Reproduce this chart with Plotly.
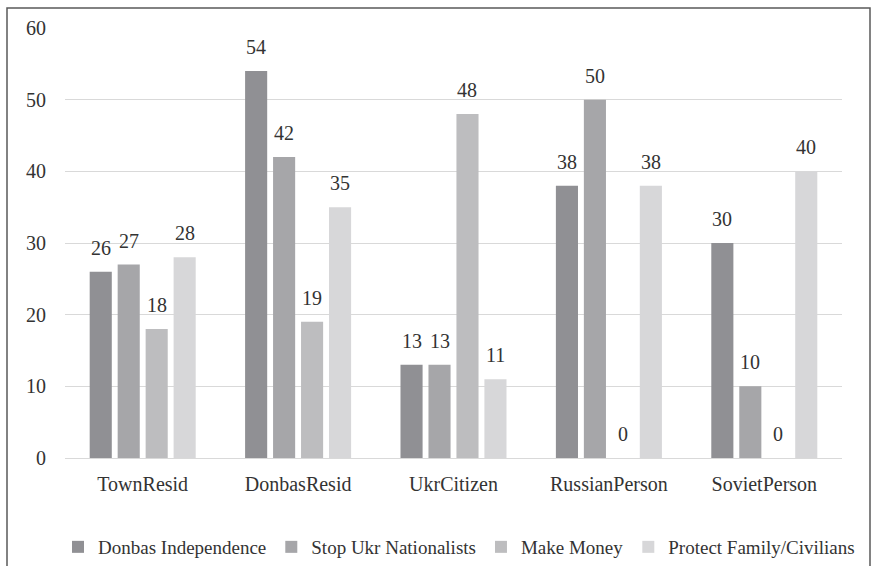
import plotly.graph_objects as go

categories = ["TownResid", "DonbasResid", "UkrCitizen", "RussianPerson", "SovietPerson"]
series_names = ["Donbas Independence", "Stop Ukr Nationalists", "Make Money", "Protect Family/Civilians"]
donbas_independence = [26, 54, 13, 38, 30]
stop_ukr_nationalists = [27, 42, 13, 50, 10]
make_money = [18, 19, 48, 0, 0]
protect_family = [28, 35, 11, 38, 40]
y_ticks = [0, 10, 20, 30, 40, 50, 60]

series_values = [donbas_independence, stop_ukr_nationalists, make_money, protect_family]
colors = ["#909094", "#a6a6a9", "#bdbdbf", "#d7d7d9"]

W, H = 871, 566
ML, MR, MT, MB = 65, 29, 28, 108
plot_w = W - ML - MR
plot_h = H - MT - MB
BARGAP = 0.28
BARGROUPGAP = 0.21
FONT = "serif"
TXT = "#333333"

fig = go.Figure()
for name, vals, col in zip(series_names, series_values, colors):
    fig.add_trace(go.Bar(
        x=categories, y=vals, name=name,
        marker=dict(color=col, line=dict(width=0)),
    ))

# value labels above bars, shifted to each bar's slot within the group
cat_px = plot_w / len(categories)
slot_px = cat_px * (1 - BARGAP) / len(series_values)
n = len(series_values)
for j, vals in enumerate(series_values):
    for c, v in zip(categories, vals):
        fig.add_annotation(
            x=c, y=v, text=str(v), showarrow=False,
            xref="x", yref="y", yanchor="bottom",
            xshift=(j - (n - 1) / 2) * slot_px, yshift=11,
            font=dict(family=FONT, size=20, color=TXT),
        )

# outer frame
fig.add_shape(
    type="rect", xref="paper", yref="paper",
    x0=(7 - ML) / plot_w, x1=(870 - ML) / plot_w,
    y0=-(MB + 10) / plot_h, y1=1 + (MT - 8) / plot_h,
    line=dict(color="#5a5a5a", width=1.5), layer="below",
)

fig.update_layout(
    width=W, height=H,
    margin=dict(l=ML, r=MR, t=MT, b=MB, autoexpand=False),
    paper_bgcolor="white", plot_bgcolor="white",
    barmode="group", bargap=BARGAP, bargroupgap=BARGROUPGAP,
    font=dict(family=FONT, size=20, color=TXT),
    showlegend=True,
    legend=dict(
        orientation="h", x=(58 - ML) / plot_w, xanchor="left",
        y=(H - MB - 547) / plot_h, yanchor="middle",
        font=dict(family=FONT, size=19, color=TXT),
        itemwidth=30, traceorder="normal", bgcolor="rgba(0,0,0,0)",
    ),
    xaxis=dict(
        showgrid=False, showline=False, zeroline=False,
        tickfont=dict(family=FONT, size=20, color=TXT),
        ticks="", ticklabelstandoff=12,
    ),
    yaxis=dict(
        range=[0, 60], tickvals=y_ticks, showgrid=True,
        gridcolor="#d9d9d9", gridwidth=1, zeroline=True,
        zerolinecolor="#d9d9d9", zerolinewidth=1, showline=False,
        tickfont=dict(family=FONT, size=20, color=TXT),
        ticks="", ticklabelstandoff=18,
    ),
)

fig.write_html("out.html", config={"displayModeBar": False},
               post_script="document.body.style.margin='0';")
